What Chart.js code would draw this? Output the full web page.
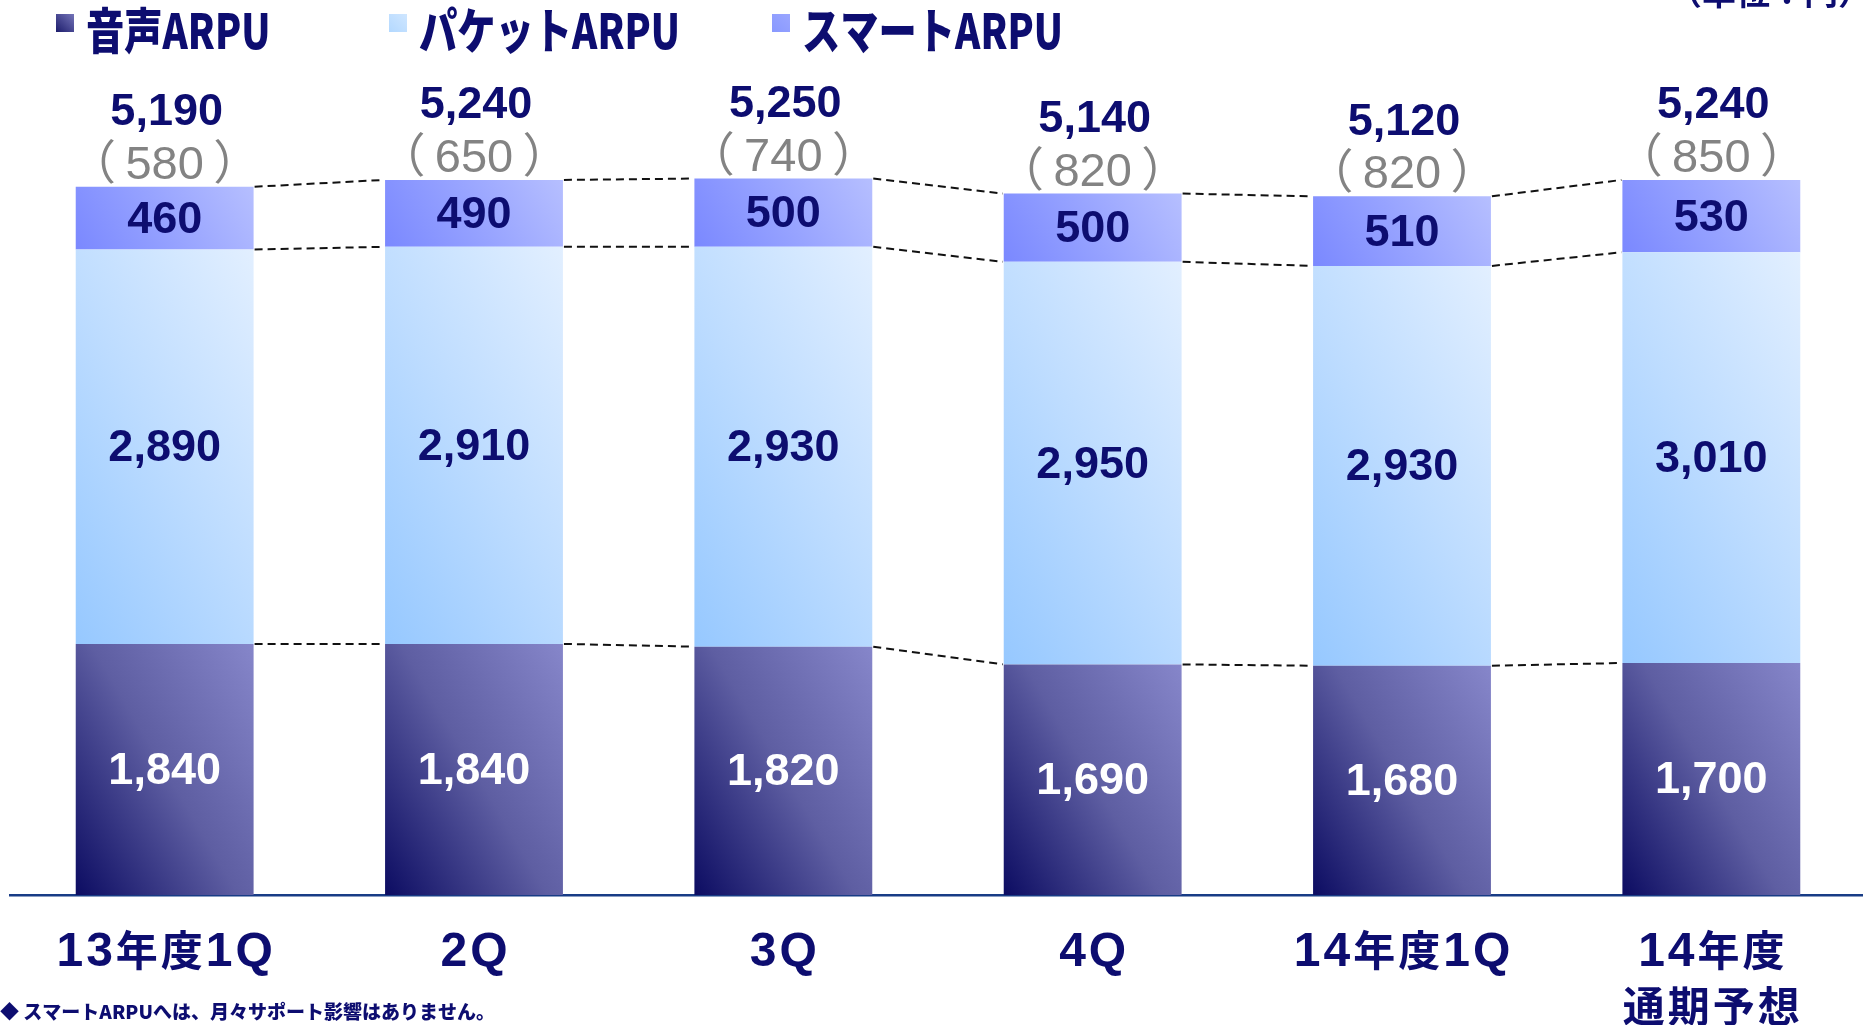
<!DOCTYPE html>
<html lang="ja">
<head>
<meta charset="utf-8">
<script src="https://cdn.jsdelivr.net/npm/chart.js@4.4.1/dist/chart.umd.min.js"></script>
<style>
  html, body { margin: 0; padding: 0; background: #fff; overflow: hidden; }
</style>
</head>
<body>
<canvas id="arpuChart" width="1870" height="1025"></canvas>
<script>
// ARPU breakdown per quarter (yen)
const categories = [["13年度1Q"], ["2Q"], ["3Q"], ["4Q"], ["14年度1Q"], ["14年度", "通期予想"]];
const voiceArpu = [1840, 1840, 1820, 1690, 1680, 1700];
const packetArpu = [2890, 2910, 2930, 2950, 2930, 3010];
const smartArpu = [460, 490, 500, 500, 510, 530];
const smartGross = [580, 650, 740, 820, 820, 850];
const seriesNames = ["音声ARPU", "パケットARPU", "スマートARPU"];

const NAVY = "#0d0d70";
const BAR_PCT = 0.575;
const NUM_FONT = '"Liberation Sans", Arial, sans-serif';
const JP_FONT = '"Noto Sans CJK JP", "Noto Sans", sans-serif';

const gradients = [
  ["#0c0c62", "#5e5ea2", "#8686ca"],
  ["#96c8ff", "#bddcff", "#e2efff"],
  ["#7a88ff", "#97a3ff", "#b6bfff"],
];

// slanted gradient for one stacked segment, bottom-left dark -> top-right light
function segmentFill(ctx) {
  const stops = gradients[ctx.datasetIndex];
  const chart = ctx.chart;
  const { x, y } = chart.scales;
  if (ctx.type !== "data" || !chart.chartArea || !x || !y) return stops[1];
  const i = ctx.dataIndex;
  let base = 0;
  for (let k = 0; k < ctx.datasetIndex; k++) base += chart.data.datasets[k].data[i];
  const top = base + chart.data.datasets[ctx.datasetIndex].data[i];
  const cx = x.getPixelForValue(i);
  const half = (x.width / categories.length) * BAR_PCT / 2;
  const left = cx - half, bottom = y.getPixelForValue(base);
  const w = half * 2, h = bottom - y.getPixelForValue(top);
  const k = (1.7 * w + h) / (1.7 * 1.7 + 1);
  const g = chart.ctx.createLinearGradient(left, bottom, left + 1.7 * k, bottom - k);
  g.addColorStop(0, stops[0]);
  g.addColorStop(0.5, stops[1]);
  g.addColorStop(1, stops[2]);
  return g;
}

// category text: latin digits a bit larger than the kanji, drawn char by char
function drawCategory(c, text, cx, baseline) {
  const gap = 3;
  const fontOf = (ch) => (/[0-9A-Z]/.test(ch) ? "bold 48px " + NUM_FONT : "bold 42px " + JP_FONT);
  const chars = [...text];
  const widths = chars.map((ch) => { c.font = fontOf(ch); return c.measureText(ch).width; });
  const total = widths.reduce((a, b) => a + b, 0) + gap * (chars.length - 1);
  let x = cx - total / 2;
  c.textAlign = "left";
  c.textBaseline = "alphabetic";
  chars.forEach((ch, n) => {
    c.font = fontOf(ch);
    c.fillText(ch, x, baseline);
    x += widths[n] + gap;
  });
}

const decorations = {
  id: "decorations",
  afterDatasetsDraw(chart) {
    const c = chart.ctx;
    const metas = [0, 1, 2].map((k) => chart.getDatasetMeta(k));

    // dashed connectors between neighbouring bars
    c.save();
    c.strokeStyle = "#111";
    c.lineWidth = 2;
    c.setLineDash([8, 5]);
    metas.forEach((meta) => {
      for (let i = 0; i < meta.data.length - 1; i++) {
        const a = meta.data[i], b = meta.data[i + 1];
        c.beginPath();
        c.moveTo(a.x + a.width / 2 + 1, a.y);
        c.lineTo(b.x - b.width / 2 - 1, b.y);
        c.stroke();
      }
    });
    c.restore();

    // segment values
    c.save();
    c.textAlign = "center";
    c.textBaseline = "middle";
    c.font = "bold 45px " + NUM_FONT;
    metas.forEach((meta, k) => {
      const values = chart.data.datasets[k].data;
      meta.data.forEach((el, i) => {
        c.fillStyle = k === 0 ? "#ffffff" : NAVY;
        c.fillText(values[i].toLocaleString("en-US"), el.x, (el.y + el.base) / 2 + 2);
      });
    });

    // totals and gross smart ARPU above each bar
    metas[2].data.forEach((el, i) => {
      const total = voiceArpu[i] + packetArpu[i] + smartArpu[i];
      c.fillStyle = NAVY;
      c.font = "bold 45px " + NUM_FONT;
      c.fillText(total.toLocaleString("en-US"), el.x + 2, el.y - 74);
      c.fillStyle = "#838383";
      c.font = "47px " + NUM_FONT + ', "Noto Sans CJK JP"';
      c.fillText("（\u2009" + smartGross[i] + "\u2009）", el.x, el.y - 21);
    });

    // category labels under the axis
    const xs = chart.scales.x;
    c.fillStyle = NAVY;
    categories.forEach((lines, i) => {
      lines.forEach((t, j) => drawCategory(c, t, xs.getPixelForValue(i), 966 + j * 56));
    });
    c.restore();
  },
  afterDraw(chart) {
    const c = chart.ctx;
    c.save();
    c.textBaseline = "middle";

    // legend
    const legendX = [56, 389, 772];
    const swatches = [["#1a1a6a", "#7474b8"], ["#b2d8ff", "#cfe6ff"], ["#8898ff", "#9aa6ff"]];
    seriesNames.forEach((name, k) => {
      const g = c.createLinearGradient(legendX[k], 33, legendX[k] + 18, 14);
      g.addColorStop(0, swatches[k][0]);
      g.addColorStop(1, swatches[k][1]);
      c.fillStyle = g;
      c.fillRect(legendX[k], 14, 18, 18);
      c.save();
      c.translate(legendX[k] + 30, 31);
      c.scale(0.87, 1.1);
      c.fillStyle = NAVY;
      c.font = "900 44px " + JP_FONT;
      c.fillText(name, 0, 0);
      c.restore();
    });

    // unit note in the top right corner
    c.fillStyle = NAVY;
    c.font = "bold 34px " + JP_FONT;
    c.textBaseline = "alphabetic";
    c.fillText("（単位：円）", 1668, 5);

    // footnote
    c.font = "900 19px " + JP_FONT;
    c.fillText("◆ スマートARPUへは、月々サポート影響はありません。", 0, 1019);
    c.restore();
  },
};

new Chart(document.getElementById("arpuChart"), {
  type: "bar",
  data: {
    labels: categories,
    datasets: [
      { label: seriesNames[0], data: voiceArpu, backgroundColor: segmentFill },
      { label: seriesNames[1], data: packetArpu, backgroundColor: segmentFill },
      { label: seriesNames[2], data: smartArpu, backgroundColor: segmentFill },
    ],
  },
  options: {
    responsive: false,
    animation: false,
    layout: { padding: { left: 10, right: 4, top: 8, bottom: 130 } },
    datasets: { bar: { barPercentage: BAR_PCT, categoryPercentage: 1, borderWidth: 0 } },
    plugins: { legend: { display: false }, tooltip: { enabled: false } },
    scales: {
      x: {
        stacked: true,
        ticks: { display: false },
        grid: { display: false, drawTicks: false },
        border: { display: true, color: "#183c86", width: 2.5 },
      },
      y: {
        stacked: true,
        display: false,
        min: 0,
        max: 6500,
      },
    },
  },
  plugins: [decorations],
});
</script>
</body>
</html>
